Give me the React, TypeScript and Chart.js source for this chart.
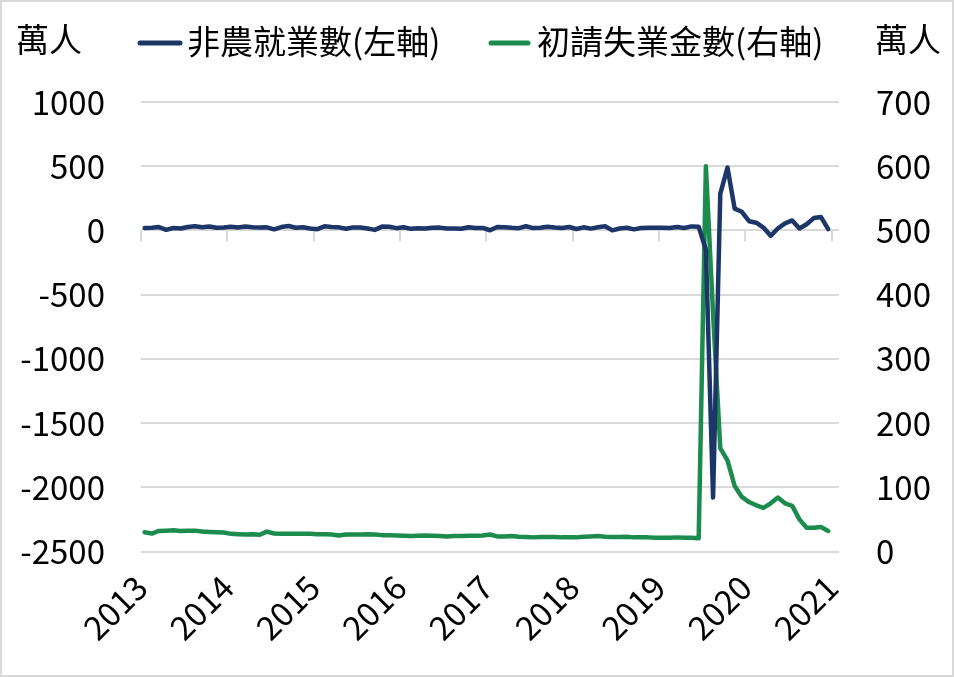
import React, { useEffect, useRef } from "react";
import { Chart, registerables } from "chart.js";

Chart.register(...registerables);

// ---- data ----
const yearLabels = ["2013", "2014", "2015", "2016", "2017", "2018", "2019", "2020", "2021"];
const seriesNames = ["非農就業數(左軸)", "初請失業金數(右軸)"];
const unitLabel = "萬人";

// monthly, Sep 2013 – Aug 2021 (萬人)
const nonfarmPayrolls = [
  19.0, 21.2, 25.8, 4.7,
  19.0, 15.1, 27.2, 32.9, 24.6, 30.4, 20.2, 23.0, 28.0, 22.7, 31.2, 25.5,
  23.4, 23.8, 8.6, 26.2, 34.4, 20.6, 25.4, 15.7, 10.0, 32.1, 27.2, 23.9,
  12.6, 23.7, 22.5, 15.3, 4.3, 29.7, 29.1, 17.6, 24.9, 12.4, 16.4, 15.5,
  21.6, 21.9, 14.7, 15.4, 13.6, 24.2, 18.2, 19.6, 1.4, 26.3, 24.9, 20.4,
  17.6, 32.2, 18.2, 20.1, 28.1, 22.2, 18.3, 26.8, 11.4, 24.1, 14.2, 25.1,
  32.3, 0.1, 15.0, 21.3, 8.4, 19.0, 20.7, 20.7, 20.8, 18.5, 26.1, 18.4,
  31.5, 28.9, -150, -2080, 285, 490, 170, 145, 72, 60, 22, -42,
  15, 55, 78, 15, 48, 96, 104, 10,
];

const initialClaims = [
  30, 28, 32, 32.5,
  33, 32, 32.5, 32.5, 31, 30.5, 30, 29.5, 27.5, 27, 26.5, 27,
  26, 31, 28, 27.5, 27.5, 27.5, 27.5, 27.5, 27, 27, 26.5, 25,
  26.5, 26.5, 26.5, 27, 26.5, 25.5, 25.5, 25, 24.5, 24, 24.5, 25,
  24.5, 24, 23.5, 24, 24, 24.5, 24.5, 25, 26.5, 23.5, 23.5, 24,
  23, 22.5, 22, 22.5, 22.5, 22.5, 22, 22, 22, 23, 23.5, 24,
  23, 22.5, 22.5, 23, 22, 22, 22, 21.5, 21.5, 21.5, 22, 21.5,
  21.5, 20.5, 600, 370, 161, 142, 102, 85, 77, 72, 68, 75,
  84, 75, 71, 50, 37, 37, 38, 32,
];

const leftAxis = { min: -2500, max: 1000, step: 500 };
const rightAxis = { min: 0, max: 700, step: 100 };
const monthsPerYear = 12;
const axisMonths = 97;

// ---- styles ----
const FONT = '"Noto Sans CJK TC", "Noto Sans", sans-serif';
const BLUE = "#1c3668";
const GREEN = "#1b8c4e";
const GRID = "#d9d9d9";
const W = 950;
const H = 673;

const legendLayout = [
  { x0: 136, x1: 180, tx: 185, y: 39 },
  { x0: 487, x1: 528, tx: 535, y: 39 },
];

const overlayPlugin = {
  id: "overlay",
  beforeDatasetsDraw(chart: any) {
    const ctx = chart.ctx;
    const xs = chart.scales.x;
    const yl = chart.scales.yL;
    const y0 = yl.getPixelForValue(0);
    ctx.save();
    ctx.strokeStyle = GRID;
    ctx.lineWidth = 2;
    xs.ticks.forEach((t: any) => {
      const px = Math.round(xs.getPixelForValue(t.value));
      ctx.beginPath();
      ctx.moveTo(px, y0);
      ctx.lineTo(px, y0 + 11);
      ctx.stroke();
    });
    ctx.restore();
  },
  afterDraw(chart: any) {
    const ctx = chart.ctx;
    ctx.save();
    ctx.font = `33px ${FONT}`;
    ctx.textBaseline = "middle";
    ctx.fillStyle = "#000";
    chart.data.datasets.forEach((ds: any, i: number) => {
      const p = legendLayout[i];
      ctx.strokeStyle = ds.borderColor;
      ctx.lineWidth = 5;
      ctx.lineCap = "round";
      ctx.beginPath();
      ctx.moveTo(p.x0 + 2, p.y + 2);
      ctx.lineTo(p.x1 - 2, p.y + 2);
      ctx.stroke();
      ctx.textAlign = "left";
      ctx.fillText(ds.label, p.tx, p.y);
    });
    ctx.fillText(unitLabel, 14, 37);
    ctx.fillText(unitLabel, 873, 37);
    ctx.restore();
  },
};

const plain = (v: any) => String(v);

export default function App() {
  const ref = useRef<HTMLCanvasElement | null>(null);

  useEffect(() => {
    if (!ref.current) return;
    const chart = new Chart(ref.current, {
      type: "line",
      data: {
        datasets: [
          {
            label: seriesNames[0],
            data: nonfarmPayrolls.map((v, i) => ({ x: i + 0.5, y: v })),
            borderColor: BLUE,
            backgroundColor: BLUE,
            borderWidth: 4.5,
            pointRadius: 0,
            borderJoinStyle: "round",
            borderCapStyle: "round",
            yAxisID: "yL",
            order: 1,
          },
          {
            label: seriesNames[1],
            data: initialClaims.map((v, i) => ({ x: i + 0.5, y: v })),
            borderColor: GREEN,
            backgroundColor: GREEN,
            borderWidth: 4.5,
            pointRadius: 0,
            borderJoinStyle: "round",
            borderCapStyle: "round",
            yAxisID: "yR",
            order: 2,
          },
        ],
      },
      options: {
        responsive: false,
        animation: false,
        layout: { padding: { top: 100, left: 0, right: 0, bottom: 0 } },
        plugins: { legend: { display: false }, tooltip: { enabled: false } },
        scales: {
          x: {
            type: "linear",
            min: 0,
            max: axisMonths,
            afterBuildTicks: (s: any) => {
              s.ticks = yearLabels.map((_, i) => ({ value: i * monthsPerYear }));
            },
            afterFit: (s: any) => {
              s.height = 123.5;
            },
            grid: { display: false, drawTicks: false },
            border: { display: false },
            ticks: {
              autoSkip: false,
              minRotation: 45,
              maxRotation: 45,
              padding: 16,
              color: "#000",
              font: { family: FONT, size: 33 },
              callback: (v: any) => yearLabels[Math.round(Number(v) / monthsPerYear)] ?? "",
            },
          },
          yL: {
            type: "linear",
            position: "left",
            min: leftAxis.min,
            max: leftAxis.max,
            afterFit: (s: any) => {
              s.width = 139;
            },
            grid: { color: GRID, lineWidth: 2, drawTicks: false },
            border: { display: false },
            ticks: {
              stepSize: leftAxis.step,
              padding: 36,
              color: "#000",
              font: { family: FONT, size: 33 },
              callback: plain,
            },
          },
          yR: {
            type: "linear",
            position: "right",
            min: rightAxis.min,
            max: rightAxis.max,
            afterFit: (s: any) => {
              s.width = W - 837;
            },
            grid: { display: false, drawTicks: false },
            border: { display: false },
            ticks: {
              stepSize: rightAxis.step,
              padding: 37,
              color: "#000",
              font: { family: FONT, size: 33 },
              callback: plain,
            },
          },
        },
      },
      plugins: [overlayPlugin],
    } as any);
    return () => chart.destroy();
  }, []);

  return (
    <div
      style={{
        position: "absolute",
        left: 0,
        top: 0,
        width: 954,
        height: 677,
        boxSizing: "border-box",
        border: `2px solid ${GRID}`,
        background: "#fff",
      }}
    >
      <canvas ref={ref} width={W} height={H} style={{ display: "block", width: W, height: H }} />
    </div>
  );
}
